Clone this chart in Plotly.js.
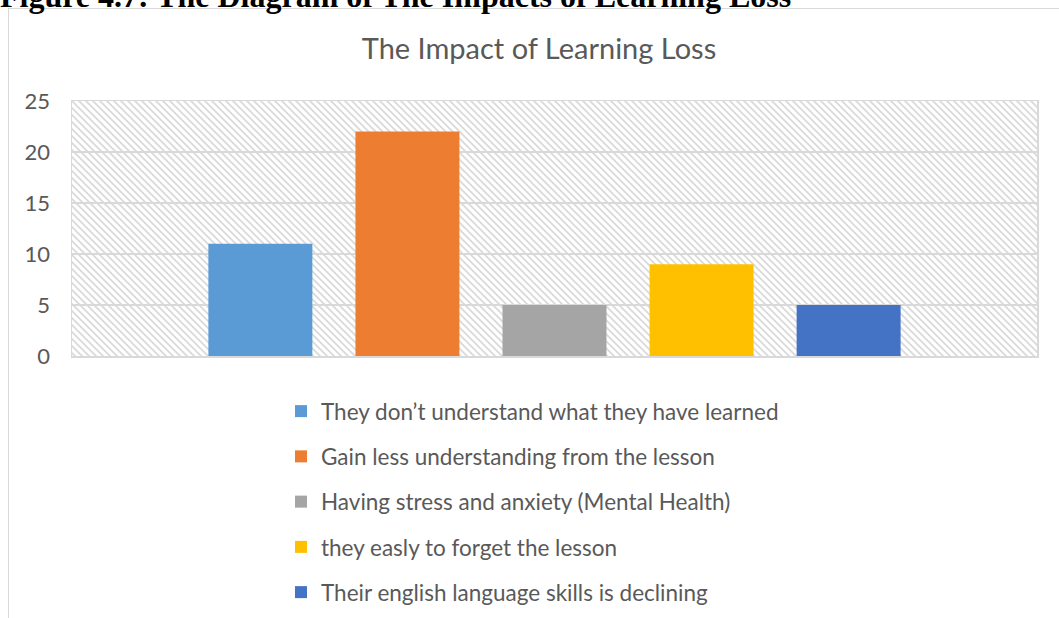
<!DOCTYPE html>
<html>
<head>
<meta charset="utf-8">
<script src="https://cdn.plot.ly/plotly-3.0.1.min.js"></script>
<style>
  html, body { margin: 0; padding: 0; background: #ffffff; overflow: hidden; }
  #wrap { position: relative; width: 1059px; height: 618px; overflow: hidden; }
  #chart { position: absolute; left: 0; top: 0; width: 1059px; height: 618px; }
  #frame { position: absolute; left: 8px; top: 8px; width: 1200px; height: 800px;
           border: 1.5px solid #d9d9d9; pointer-events: none; }
  #caption { position: absolute; left: 0; top: -20px; white-space: nowrap;
             font-family: "Liberation Serif", "Times New Roman", serif; font-weight: bold;
             font-size: 32px; line-height: 32px; color: #000; }
</style>
</head>
<body>
<div id="wrap">
  <div id="chart"></div>
  <div id="frame"></div>
  <div id="caption">Figure 4.7: The Diagram of The Impacts of Learning Loss</div>
</div>
<script>
// ---- data ----
const categories = ['Impact'];
const seriesNames = [
  'They don\u2019t understand what they have learned',
  'Gain less understanding from the lesson',
  'Having stress and anxiety (Mental Health)',
  'they easly to forget the lesson',
  'Their english language skills is declining'
];
const seriesValues = [11, 22, 5, 9, 5];
const seriesColors = ['#5B9BD5', '#ED7D31', '#A5A5A5', '#FFC000', '#4472C4'];
const yTickValues = [0, 5, 10, 15, 20, 25];

// ---- traces ----
const traces = seriesNames.map((name, i) => ({
  type: 'bar',
  name: name,
  x: categories,
  y: [seriesValues[i]],
  marker: { color: seriesColors[i], line: { width: 0 } },
  legendgroup: 'g' + i,
  hoverinfo: 'name+y'
}));

// hatched plot-area background (wide downward diagonal)
const W = 965, H = 255, P = 7;
const svg = '<svg xmlns="http://www.w3.org/2000/svg" width="' + W + '" height="' + H + '" viewBox="0 0 ' + W + ' ' + H + '" preserveAspectRatio="none">' +
  '<defs><pattern id="p" patternUnits="userSpaceOnUse" width="' + P + '" height="' + P + '">' +
  '<rect width="' + P + '" height="' + P + '" fill="#ffffff"/>' +
  '<path d="M-2,-2 L' + (P + 2) + ',' + (P + 2) + ' M-2,' + (P - 2) + ' L2,' + (P + 2) + ' M' + (P - 2) + ',-2 L' + (P + 2) + ',2" stroke="#dadada" stroke-width="1.8"/>' +
  '</pattern></defs><rect width="100%" height="100%" fill="url(#p)"/></svg>';
const hatch = 'data:image/svg+xml;charset=utf-8,' + encodeURIComponent(svg);

const fontFam = 'Lato, "Open Sans", sans-serif';
const layout = {
  width: 1059,
  height: 618,
  margin: { l: 72, r: 22, t: 101, b: 262, pad: 0, autoexpand: false },
  paper_bgcolor: 'rgba(0,0,0,0)',
  plot_bgcolor: 'rgba(0,0,0,0)',
  font: { family: fontFam, color: '#595959' },
  title: {
    text: 'The Impact of Learning Loss',
    font: { family: fontFam, size: 29, color: '#595959' },
    x: 539 / 1059, xanchor: 'center', xref: 'container',
    y: 1 - 49 / 618, yanchor: 'middle', yref: 'container'
  },
  barmode: 'group',
  bargap: 0.238,
  bargroupgap: 0.293,
  showlegend: true,
  legend: {
    orientation: 'v',
    xref: 'container', yref: 'container',
    x: 281 / 1059, xanchor: 'left',
    y: 1 - 390 / 618, yanchor: 'top',
    font: { family: fontFam, size: 22.5, color: '#595959' },
    tracegroupgap: 13,
    bgcolor: 'rgba(0,0,0,0)',
    traceorder: 'grouped'
  },
  xaxis: {
    type: 'category',
    range: [-0.5, 0.5],
    showticklabels: false,
    ticks: '',
    showgrid: false,
    showline: true, mirror: true, linecolor: '#d9d9d9', linewidth: 1.5,
    zeroline: false,
    fixedrange: true
  },
  yaxis: {
    range: [0, 25],
    tickvals: yTickValues,
    ticktext: yTickValues.map(String),
    tickfont: { family: fontFam, size: 22, color: '#595959' },
    ticks: '',
    ticklabelstandoff: 16,
    showgrid: true, gridcolor: '#d9d9d9', gridwidth: 1.5,
    showline: true, mirror: true, linecolor: '#d9d9d9', linewidth: 1.5,
    zeroline: false,
    fixedrange: true
  },
  images: [{
    source: hatch,
    xref: 'paper', yref: 'paper',
    x: 0, y: 1, sizex: 1, sizey: 1,
    xanchor: 'left', yanchor: 'top',
    sizing: 'stretch', layer: 'below'
  }]
};

Plotly.newPlot('chart', traces, layout, { staticPlot: true, displayModeBar: false });
</script>
</body>
</html>
